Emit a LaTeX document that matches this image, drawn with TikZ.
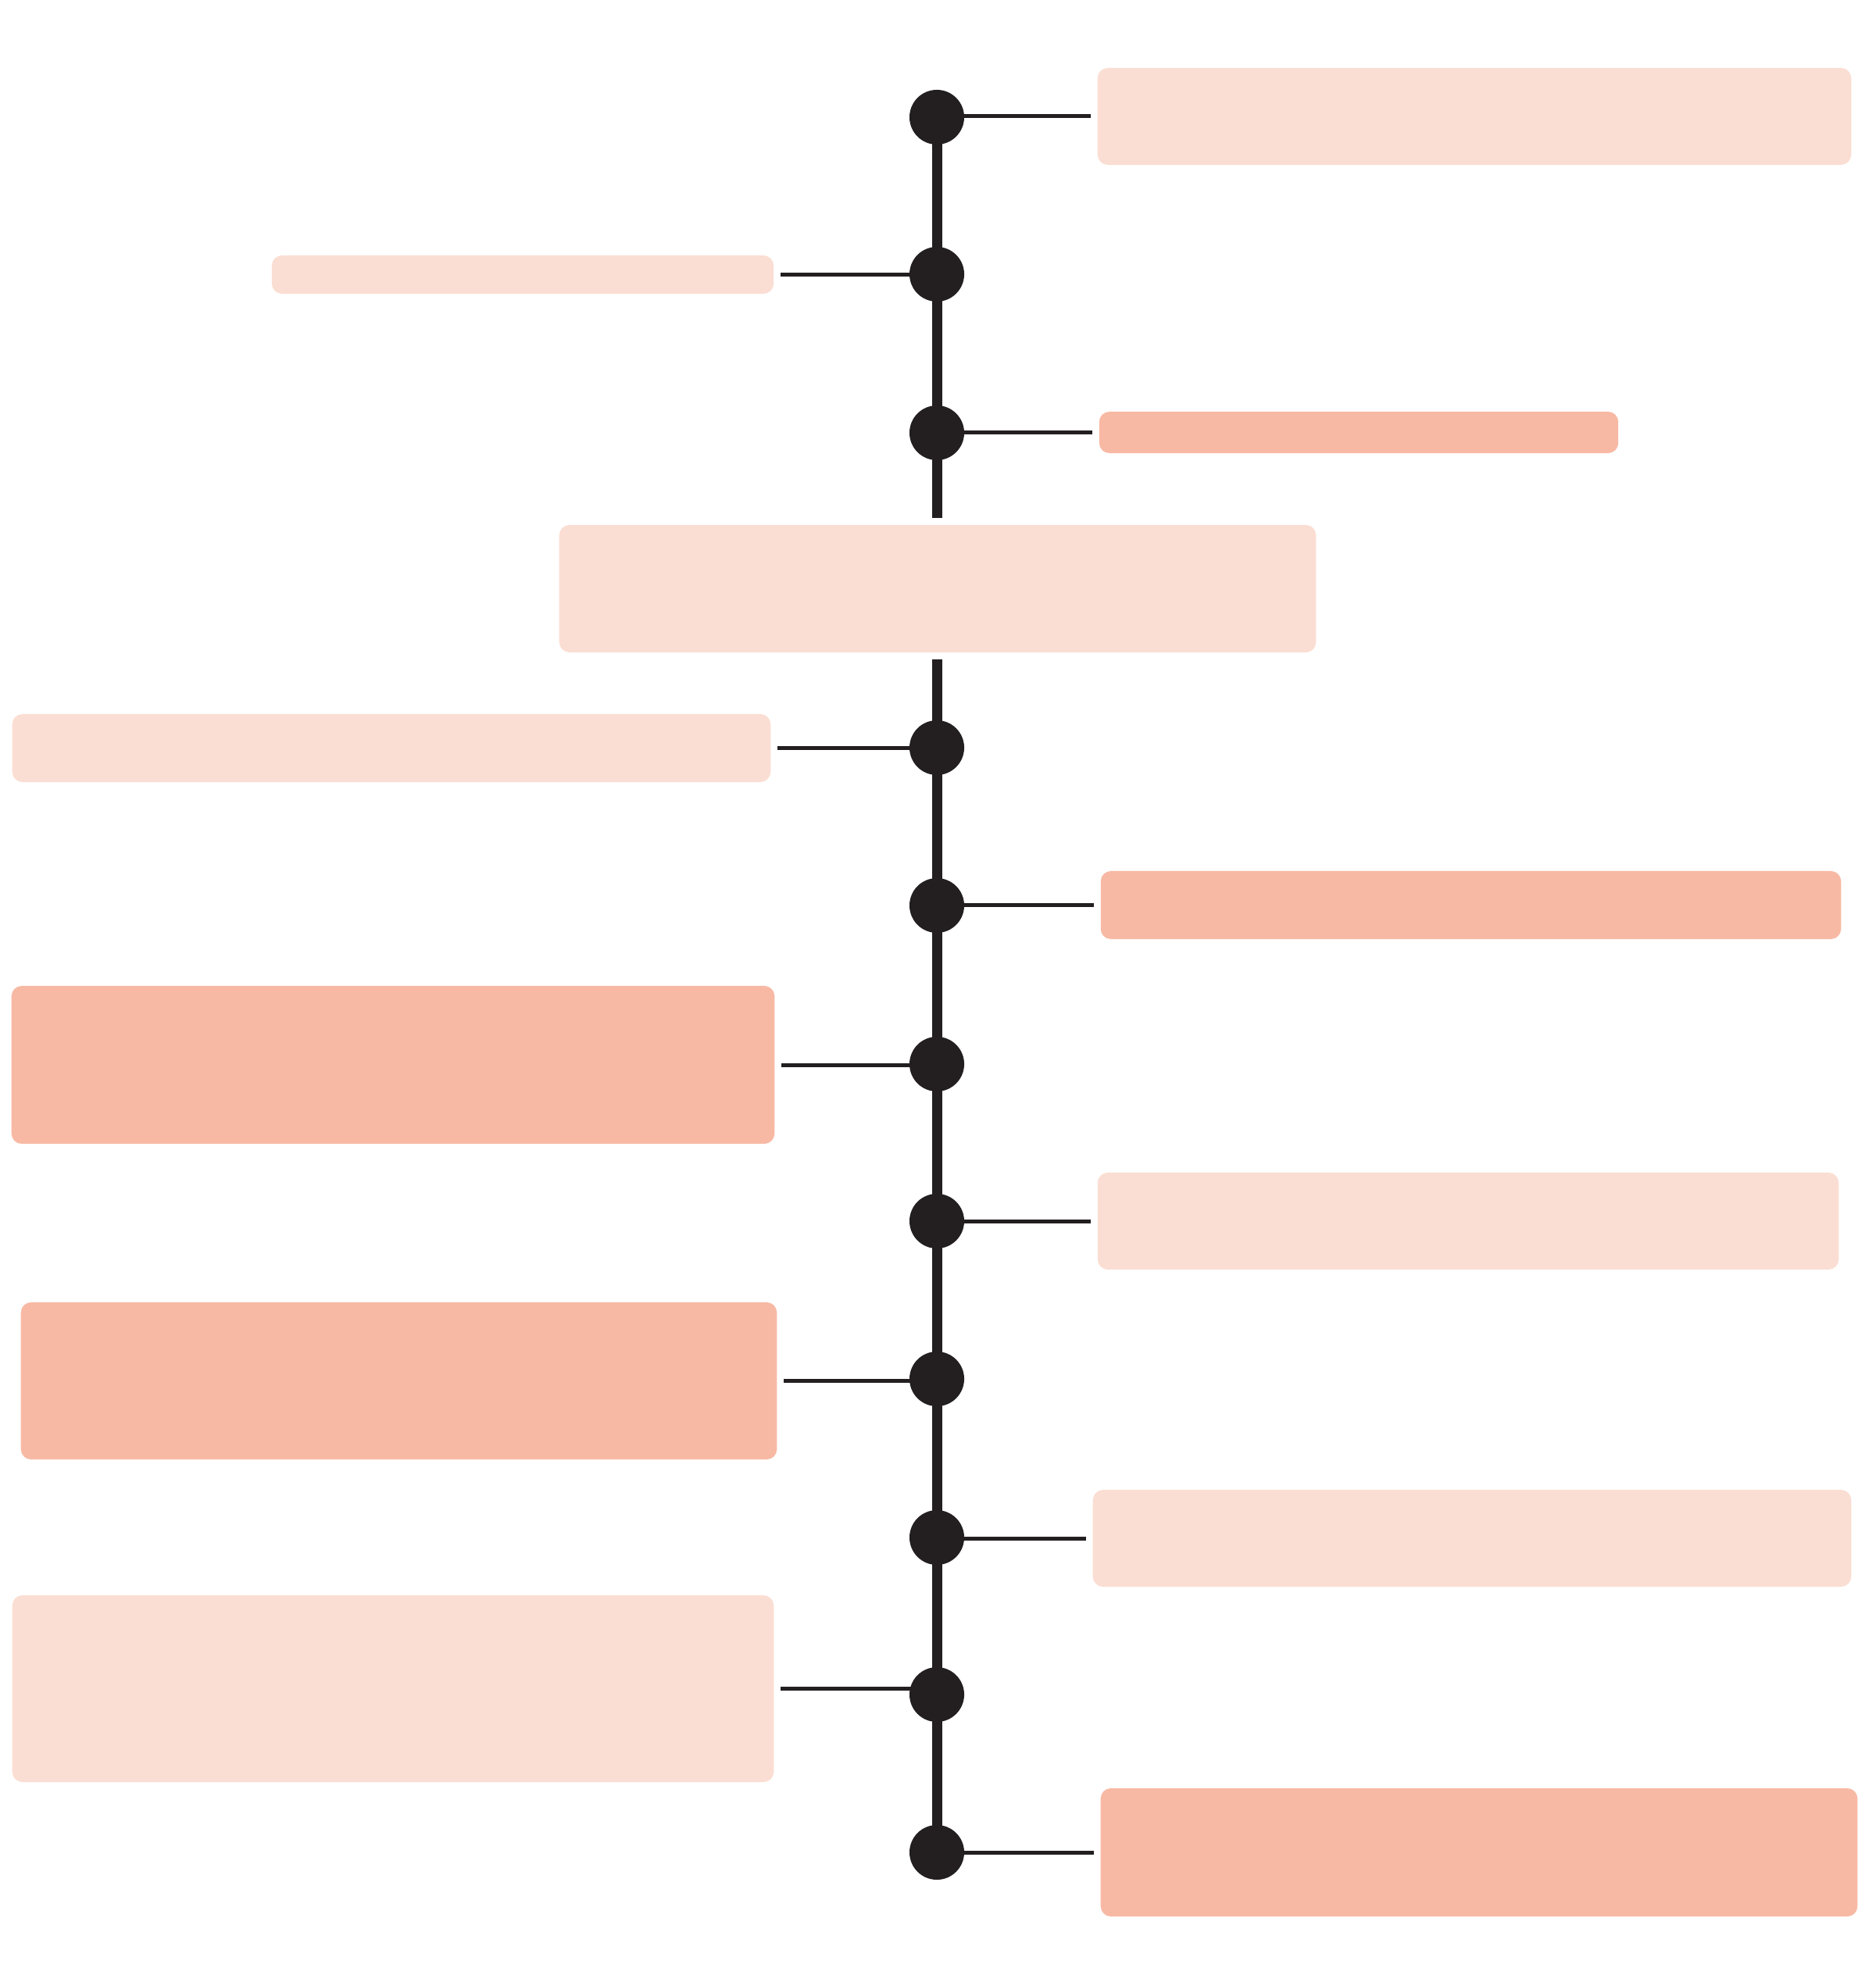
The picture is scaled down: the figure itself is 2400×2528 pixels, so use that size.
\documentclass[tikz,border=0pt]{standalone}
\definecolor{spinedark}{RGB}{35,31,32}
\definecolor{peachlight}{RGB}{251,222,211}
\definecolor{peachdark}{RGB}{248,185,164}
\usepackage{tikz}
\usetikzlibrary{positioning,calc}

\begin{document}
\begin{tikzpicture}[
      x=0.01cm,
      y=-0.01cm,
      dot/.style={circle, fill=spinedark, minimum size=0.7cm, inner sep=0pt},
      softbox/.style={fill=peachlight, rounded corners=0.13cm, inner sep=0pt},
      strongbox/.style={fill=peachdark, rounded corners=0.13cm, inner sep=0pt},
      spine/.style={spinedark, line width=0.13cm},
      link/.style={spinedark, line width=0.05cm, shorten <=2.3pt}
    ]
    \useasboundingbox (0,0) rectangle (2400,2528);

    % points on the spine
    \coordinate (d1) at (1199,150);
    \coordinate (d2) at (1199,351);
    \coordinate (d3) at (1199,554);
    \coordinate (d5) at (1199,957);
    \coordinate (d6) at (1199,1159);
    \coordinate (d7) at (1199,1362);
    \coordinate (d8) at (1199,1563);
    \coordinate (d9) at (1199,1765);
    \coordinate (d10) at (1199,1968);
    \coordinate (d11) at (1199,2169);
    \coordinate (d12) at (1199,2371);

    % boxes
    \node[softbox, minimum width=9.64cm, minimum height=1.24cm] (b1) at (1887,149) {};
    \node[softbox, minimum width=6.42cm, minimum height=0.49cm] (b2) at (669,351.5) {};
    \node[strongbox, minimum width=6.64cm, minimum height=0.53cm] (b3) at (1739,553.5) {};
    \node[softbox, minimum width=9.68cm, minimum height=1.63cm] (b4) at (1200,753.5) {};
    \node[softbox, minimum width=9.70cm, minimum height=0.87cm] (b5) at (501,957.5) {};
    \node[strongbox, minimum width=9.47cm, minimum height=0.87cm] (b6) at (1882.5,1158.5) {};
    \node[strongbox, minimum width=9.76cm, minimum height=2.02cm] (b7) at (503,1363) {};
    \node[softbox, minimum width=9.48cm, minimum height=1.24cm] (b8) at (1879,1563) {};
    \node[strongbox, minimum width=9.67cm, minimum height=2.01cm] (b9) at (510.5,1767.5) {};
    \node[softbox, minimum width=9.70cm, minimum height=1.24cm] (b10) at (1884,1969) {};
    \node[softbox, minimum width=9.74cm, minimum height=2.39cm] (b11) at (503,2161.5) {};
    \node[strongbox, minimum width=9.68cm, minimum height=1.64cm] (b12) at (1893,2371) {};

    % spine
    \foreach \a/\b in {d1/d2,d2/d3,d5/d6,d6/d7,d7/d8,d8/d9,d9/d10,d10/d11,d11/d12}
      \draw[spine] (\a) -- (\b);
    \draw[spine, shorten >=2.3pt] (d3) -- (d3 |- b4.north);
    \draw[spine, shorten <=2.3pt] (d5 |- b4.south) -- (d5);

    % links to the boxes
    \foreach \b/\d in {b1/d1,b3/d3,b6/d6,b8/d8,b10/d10,b12/d12}
      \draw[link] (\b.west) -- (\b.west -| \d);
    \foreach \b/\d in {b2/d2,b5/d5,b7/d7,b9/d9,b11/d11}
      \draw[link] (\b.east) -- (\b.east -| \d);
    \foreach \d in {d1,d2,d3,d5,d6,d7,d8,d9,d10,d11,d12}
      \node[dot] (m\d) at (\d) {};
  \end{tikzpicture}
\end{document}
